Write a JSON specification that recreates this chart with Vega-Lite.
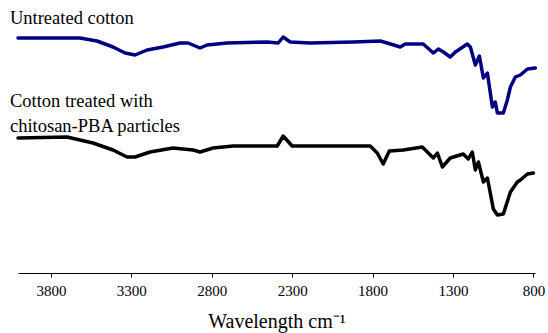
{
  "$schema": "https://vega.github.io/schema/vega-lite/v6.json",
  "width": 517,
  "height": 273,
  "autosize": {"type": "none"},
  "padding": {"left": 18, "top": 0, "right": 13, "bottom": 60},
  "background": "white",
  "config": {"view": {"stroke": null}, "font": "Liberation Serif"},
  "datasets": {
    "spectra": [
      {"wn": 4005, "t": 235, "sample": "Untreated cotton"},
      {"wn": 3620, "t": 235, "sample": "Untreated cotton"},
      {"wn": 3514, "t": 232, "sample": "Untreated cotton"},
      {"wn": 3414, "t": 226, "sample": "Untreated cotton"},
      {"wn": 3339, "t": 220, "sample": "Untreated cotton"},
      {"wn": 3277, "t": 218, "sample": "Untreated cotton"},
      {"wn": 3202, "t": 223, "sample": "Untreated cotton"},
      {"wn": 3103, "t": 226, "sample": "Untreated cotton"},
      {"wn": 2997, "t": 230, "sample": "Untreated cotton"},
      {"wn": 2947, "t": 230, "sample": "Untreated cotton"},
      {"wn": 2873, "t": 225, "sample": "Untreated cotton"},
      {"wn": 2829, "t": 228, "sample": "Untreated cotton"},
      {"wn": 2705, "t": 230, "sample": "Untreated cotton"},
      {"wn": 2456, "t": 231, "sample": "Untreated cotton"},
      {"wn": 2387, "t": 230, "sample": "Untreated cotton"},
      {"wn": 2356, "t": 236, "sample": "Untreated cotton"},
      {"wn": 2312, "t": 231, "sample": "Untreated cotton"},
      {"wn": 2188, "t": 230, "sample": "Untreated cotton"},
      {"wn": 1920, "t": 231, "sample": "Untreated cotton"},
      {"wn": 1752, "t": 232, "sample": "Untreated cotton"},
      {"wn": 1709, "t": 230, "sample": "Untreated cotton"},
      {"wn": 1628, "t": 226, "sample": "Untreated cotton"},
      {"wn": 1597, "t": 229, "sample": "Untreated cotton"},
      {"wn": 1485, "t": 229, "sample": "Untreated cotton"},
      {"wn": 1422, "t": 220, "sample": "Untreated cotton"},
      {"wn": 1391, "t": 224, "sample": "Untreated cotton"},
      {"wn": 1360, "t": 221, "sample": "Untreated cotton"},
      {"wn": 1317, "t": 216, "sample": "Untreated cotton"},
      {"wn": 1285, "t": 221, "sample": "Untreated cotton"},
      {"wn": 1211, "t": 229, "sample": "Untreated cotton"},
      {"wn": 1192, "t": 226, "sample": "Untreated cotton"},
      {"wn": 1161, "t": 208, "sample": "Untreated cotton"},
      {"wn": 1136, "t": 217, "sample": "Untreated cotton"},
      {"wn": 1111, "t": 195, "sample": "Untreated cotton"},
      {"wn": 1086, "t": 200, "sample": "Untreated cotton"},
      {"wn": 1055, "t": 166, "sample": "Untreated cotton"},
      {"wn": 1037, "t": 171, "sample": "Untreated cotton"},
      {"wn": 1024, "t": 160, "sample": "Untreated cotton"},
      {"wn": 987, "t": 160, "sample": "Untreated cotton"},
      {"wn": 962, "t": 173, "sample": "Untreated cotton"},
      {"wn": 943, "t": 186, "sample": "Untreated cotton"},
      {"wn": 912, "t": 196, "sample": "Untreated cotton"},
      {"wn": 881, "t": 198, "sample": "Untreated cotton"},
      {"wn": 837, "t": 204, "sample": "Untreated cotton"},
      {"wn": 788, "t": 205, "sample": "Untreated cotton"},
      {"wn": 4005, "t": 135, "sample": "Treated"},
      {"wn": 3700, "t": 136, "sample": "Treated"},
      {"wn": 3539, "t": 130, "sample": "Treated"},
      {"wn": 3414, "t": 123, "sample": "Treated"},
      {"wn": 3327, "t": 116, "sample": "Treated"},
      {"wn": 3277, "t": 116, "sample": "Treated"},
      {"wn": 3184, "t": 121, "sample": "Treated"},
      {"wn": 3041, "t": 125, "sample": "Treated"},
      {"wn": 2916, "t": 123, "sample": "Treated"},
      {"wn": 2873, "t": 121, "sample": "Treated"},
      {"wn": 2792, "t": 125, "sample": "Treated"},
      {"wn": 2667, "t": 127, "sample": "Treated"},
      {"wn": 2393, "t": 127, "sample": "Treated"},
      {"wn": 2356, "t": 137, "sample": "Treated"},
      {"wn": 2300, "t": 127, "sample": "Treated"},
      {"wn": 1815, "t": 127, "sample": "Treated"},
      {"wn": 1771, "t": 120, "sample": "Treated"},
      {"wn": 1734, "t": 109, "sample": "Treated"},
      {"wn": 1696, "t": 122, "sample": "Treated"},
      {"wn": 1609, "t": 123, "sample": "Treated"},
      {"wn": 1491, "t": 126, "sample": "Treated"},
      {"wn": 1422, "t": 115, "sample": "Treated"},
      {"wn": 1397, "t": 120, "sample": "Treated"},
      {"wn": 1366, "t": 106, "sample": "Treated"},
      {"wn": 1317, "t": 115, "sample": "Treated"},
      {"wn": 1236, "t": 119, "sample": "Treated"},
      {"wn": 1205, "t": 114, "sample": "Treated"},
      {"wn": 1180, "t": 121, "sample": "Treated"},
      {"wn": 1161, "t": 103, "sample": "Treated"},
      {"wn": 1142, "t": 111, "sample": "Treated"},
      {"wn": 1111, "t": 91, "sample": "Treated"},
      {"wn": 1086, "t": 95, "sample": "Treated"},
      {"wn": 1049, "t": 64, "sample": "Treated"},
      {"wn": 1024, "t": 58, "sample": "Treated"},
      {"wn": 987, "t": 59, "sample": "Treated"},
      {"wn": 943, "t": 81, "sample": "Treated"},
      {"wn": 900, "t": 91, "sample": "Treated"},
      {"wn": 881, "t": 93, "sample": "Treated"},
      {"wn": 837, "t": 99, "sample": "Treated"},
      {"wn": 800, "t": 100, "sample": "Treated"}
    ],
    "labels": [
      {"wn": 4055, "t": 255, "label": "Untreated cotton"},
      {"wn": 4055, "t": 172, "label": "Cotton treated with"},
      {"wn": 4055, "t": 147, "label": "chitosan-PBA particles"}
    ]
  },
  "layer": [
    {
      "data": {"name": "spectra"},
      "mark": {"type": "line", "strokeWidth": 3.5, "strokeJoin": "round", "strokeCap": "round", "clip": false},
      "encoding": {
        "x": {
          "field": "wn", "type": "quantitative",
          "scale": {"domain": [4005, 790], "nice": false, "zero": false},
          "axis": {
            "title": "Wavelength cm⁻¹",
            "values": [3800, 3300, 2800, 2300, 1800, 1300, 800],
            "format": "d",
            "grid": false,
            "domainColor": "black",
            "domainWidth": 1,
            "tickColor": "black",
            "tickWidth": 1,
            "tickSize": 4,
            "labelFont": "Liberation Serif",
            "labelFontSize": 15,
            "labelColor": "black",
            "labelPadding": 6,
            "labelFlush": false,
            "labelOverlap": false,
            "titleFont": "Liberation Serif",
            "titleFontSize": 20,
            "titleFontWeight": "normal",
            "titleColor": "black",
            "titlePadding": 13,
            "encode": {"ticks": {"enter": {"y": {"value": -4}}, "update": {"y": {"value": -4}}}}
          }
        },
        "y": {
          "field": "t", "type": "quantitative",
          "scale": {"domain": [0, 273], "nice": false},
          "axis": null
        },
        "color": {
          "field": "sample", "type": "nominal",
          "scale": {"domain": ["Untreated cotton", "Treated"], "range": ["#000080", "#000000"]},
          "legend": null
        },
        "order": {"field": "wn", "sort": "descending"}
      }
    },
    {
      "data": {"name": "labels"},
      "mark": {"type": "text", "align": "left", "baseline": "middle", "font": "Liberation Serif", "fontSize": 18.5, "color": "black", "clip": false},
      "encoding": {
        "x": {"field": "wn", "type": "quantitative"},
        "y": {"field": "t", "type": "quantitative"},
        "text": {"field": "label"}
      }
    }
  ]
}
